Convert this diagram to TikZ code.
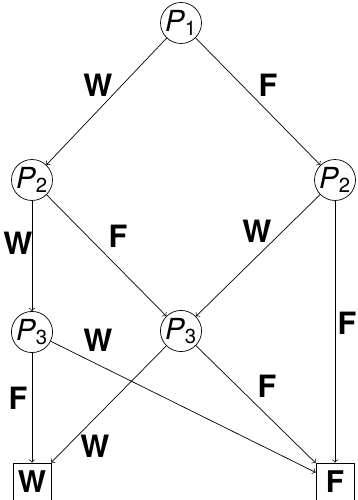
\documentclass[tikz,border=0pt]{standalone}
\usepackage{fontspec}
\setmainfont{TeX Gyre Heros}
\usepackage{tikz}

\newcommand{\pnodo}[1]{\textit{P}\textsubscript{#1}}

\begin{document}
\begin{tikzpicture}[x=0.02cm, y=-0.02cm, >=to,
  stato/.style={circle, draw, minimum size=0.82cm, inner sep=0pt, font=\fontsize{16.5}{18}\selectfont},
  foglia/.style={rectangle, draw, minimum size=0.76cm, inner sep=0pt, font=\fontsize{17}{19}\selectfont\bfseries},
  etichetta/.style={inner sep=0pt, font=\fontsize{17.5}{20}\selectfont\bfseries},
  arco/.style={->, line width=0.4pt}]

\useasboundingbox (0,0) rectangle (358,500);

% Posizioni dei nodi
\node[stato] (p1) at (181,23) {\pnodo{1}};
\node[stato] (p2a) at (32,180) {\pnodo{2}};
\node[stato] (p2b) at (335,180) {\pnodo{2}};
\node[stato] (p3a) at (32,332) {\pnodo{3}};
\node[stato] (p3b) at (181,331) {\pnodo{3}};
\node[foglia] (w) at (32,482) {W};
\node[foglia] (f) at (335,482) {F};

% Archi
\draw[arco] (p1) -- (p2a);
\draw[arco] (p1) -- (p2b);
\draw[arco] (p2a) -- (p3a);
\draw[arco] (p2a) -- (p3b);
\draw[arco] (p2b) -- (p3b);
\draw[arco] (p2b) -- (f);
\draw[arco] (p3a) -- (w);
\draw[arco] (p3a) -- (f);
\draw[arco] (p3b) -- (w);
\draw[arco] (p3b) -- (f);

% Etichette
\node[etichetta] (e1) at (98,85) {W};
\node[etichetta] (e2) at (268,85) {F};
\node[etichetta] (e3) at (18,243) {W};
\node[etichetta] (e4) at (118,236) {F};
\node[etichetta] (e5) at (257,231) {W};
\node[etichetta] (e6) at (347,323) {F};
\node[etichetta] (e7) at (98,340) {W};
\node[etichetta] (e8) at (18,398) {F};
\node[etichetta] (e9) at (267,386) {F};
\node[etichetta] (e10) at (95,446) {W};

\end{tikzpicture}
\end{document}
